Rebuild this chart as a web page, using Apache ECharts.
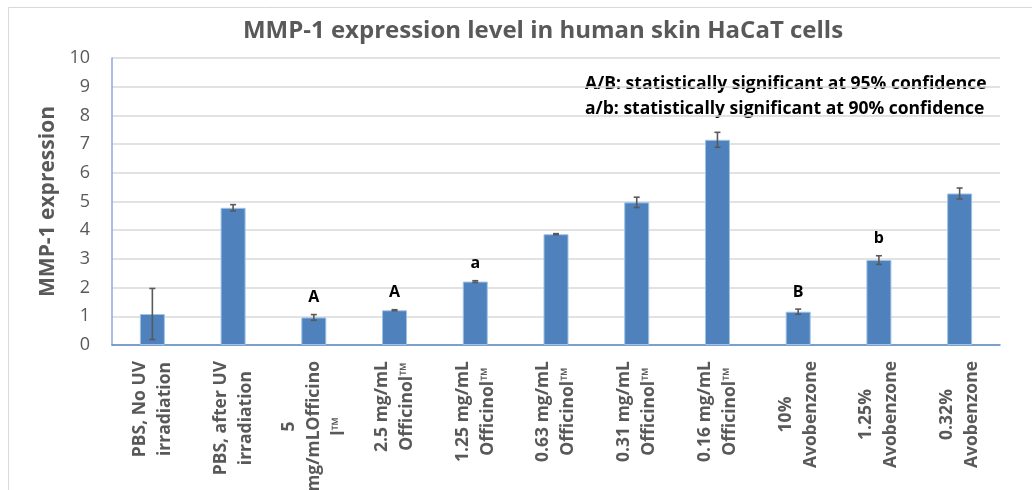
<!DOCTYPE html>
<html><head><meta charset="utf-8">
<script src="https://cdn.jsdelivr.net/npm/echarts@6/dist/echarts.min.js"></script>
<style>html,body{margin:0;padding:0;background:#fff}#c{width:1032px;height:490px}</style>
</head><body><div id="c"></div>
<script>
// ---- data ----
const categories = [
  'PBS, No UV\nirradiation',
  'PBS, after UV\nirradiation',
  '5\nmg/mLOfficino\nl™',
  '2.5 mg/mL\nOfficinol™',
  '1.25 mg/mL\nOfficinol™',
  '0.63 mg/mL\nOfficinol™',
  '0.31 mg/mL\nOfficinol™',
  '0.16 mg/mL\nOfficinol™',
  '10%\nAvobenzone',
  '1.25%\nAvobenzone',
  '0.32%\nAvobenzone'
];
const values = [1.08, 4.78, 0.96, 1.21, 2.21, 3.86, 4.97, 7.15, 1.16, 2.96, 5.28];
const errors = [0.89, 0.11, 0.10, 0.02, 0.03, 0.02, 0.18, 0.26, 0.09, 0.15, 0.19];
const sigLabels = ['', '', 'A', 'A', 'a', '', '', '', 'B', 'b', ''];
const yMin = 0, yMax = 10, yStep = 1;
const titleText = 'MMP-1 expression level in human skin HaCaT cells';
const yAxisName = 'MMP-1 expression';
const notes = [
  'A/B: statistically significant at 95% confidence',
  'a/b: statistically significant at 90% confidence'
];

// ---- chart ----
const FONT = '"Open Sans", "Noto Sans", sans-serif';
const GREY = '#595959';
const chart = echarts.init(document.getElementById('c'), null, {renderer: 'canvas'});

const option = {
  animation: false,
  backgroundColor: '#ffffff',
  title: {
    text: titleText,
    left: 538, top: 14, textAlign: 'center',
    textStyle: {fontFamily: FONT, fontWeight: 'bold', fontSize: 24, color: GREY}
  },
  graphic: [
    {type: 'rect', shape: {x: 8.5, y: 7.5, width: 1100, height: 600},
     style: {fill: 'none', stroke: '#d9d9d9', lineWidth: 1}, silent: true, z: -10},
    {type: 'text', x: 585, y: 84,
     style: {text: notes[0], font: 'bold 17.5px ' + FONT, fill: '#000', align: 'left', verticalAlign: 'middle'}},
    {type: 'text', x: 585, y: 109,
     style: {text: notes[1], font: 'bold 17.5px ' + FONT, fill: '#000', align: 'left', verticalAlign: 'middle'}}
  ],
  grid: {left: 112, right: 32, top: 58, bottom: 145, containLabel: false, outerBoundsMode: 'none'},
  xAxis: {
    type: 'category',
    data: categories,
    axisTick: {show: false},
    axisLine: {show: true, lineStyle: {color: '#5b8ac6', width: 1.5}},
    axisLabel: {
      interval: 0, rotate: 90, margin: 16,
      formatter: v => v.split('\n').map(s => '{c|' + s + '}').join('\n'),
      rich: {c: {align: 'center', fontFamily: FONT, fontWeight: 'bold', fontSize: 17.5, color: GREY, lineHeight: 25}}
    }
  },
  yAxis: {
    type: 'value', min: yMin, max: yMax, interval: yStep,
    name: yAxisName, nameLocation: 'middle', nameGap: 45,
    nameTextStyle: {fontFamily: FONT, fontWeight: 'bold', fontSize: 21, color: GREY},
    axisLine: {show: true, lineStyle: {color: '#8faadc', width: 1.5}},
    axisTick: {show: false},
    axisLabel: {fontFamily: FONT, fontSize: 18, color: GREY, margin: 22},
    splitLine: {lineStyle: {color: '#d9d9d9', width: 1.5}}
  },
  series: [
    {
      type: 'bar', data: values, barWidth: 25,
      itemStyle: {color: '#4f81bd', borderColor: '#9dc3e6', borderWidth: 1}
    },
    {
      type: 'custom', z: 5,
      data: values.map((v, i) => [i, v - errors[i], v + errors[i]]),
      renderItem: (params, api) => {
        const lo = api.coord([api.value(0), api.value(1)]);
        const hi = api.coord([api.value(0), api.value(2)]);
        const cw = 3;
        const st = {stroke: '#595959', lineWidth: 1.6};
        return {type: 'group', children: [
          {type: 'line', shape: {x1: lo[0], y1: lo[1], x2: hi[0], y2: hi[1]}, style: st},
          {type: 'line', shape: {x1: lo[0] - cw, y1: lo[1], x2: lo[0] + cw, y2: lo[1]}, style: st},
          {type: 'line', shape: {x1: hi[0] - cw, y1: hi[1], x2: hi[0] + cw, y2: hi[1]}, style: st}
        ]};
      }
    },
    {
      type: 'custom', z: 6,
      data: values.map((v, i) => [i, v + errors[i]]),
      renderItem: (params, api) => {
        const t = sigLabels[params.dataIndex];
        if (!t) return null;
        const p = api.coord([api.value(0), api.value(1)]);
        return {type: 'text', x: p[0], y: p[1] - 17,
          style: {text: t, font: 'bold 16px ' + FONT, fill: '#000', align: 'center', verticalAlign: 'middle'}};
      }
    }
  ]
};
chart.setOption(option);
</script>
</body></html>
